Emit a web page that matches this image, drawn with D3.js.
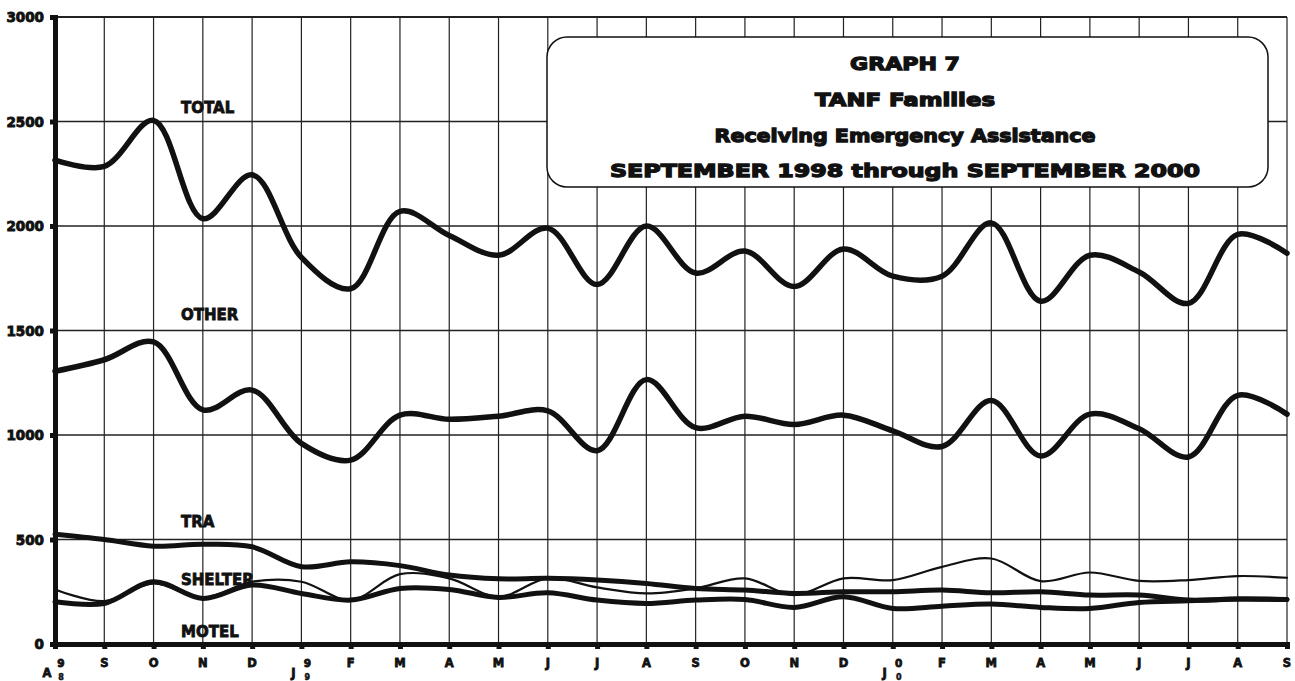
<!DOCTYPE html>
<html>
<head>
<meta charset="utf-8">
<script src="https://cdn.jsdelivr.net/npm/d3@7"></script>
<style>
  html, body { margin: 0; padding: 0; background: #fff; }
  svg { display: block; }
  text { font-family: "DejaVu Sans", "Liberation Sans", sans-serif; font-weight: bold; fill: #111; }
</style>
</head>
<body>
<svg id="chart" width="1295" height="681"></svg>
<script>
// ---- data ----
const months = ["A98","S","O","N","D","J99","F","M","A","M","J","J","A","S","O","N","D","J00","F","M","A","M","J","J","A","S"];
const totalValues   = [2315,2285,2505,2035,2245,1850,1700,2070,1955,1860,1990,1720,2000,1775,1880,1710,1890,1760,1760,2015,1640,1860,1780,1630,1960,1870];
const otherValues   = [1305,1360,1445,1120,1215,960,880,1095,1075,1090,1115,925,1265,1035,1090,1050,1095,1020,945,1165,900,1100,1030,895,1190,1100];
const traValues     = [525,500,468,477,465,370,393,375,330,312,314,306,290,266,258,242,250,250,258,245,250,234,234,210,215,213];
const shelterValues = [202,194,298,218,282,242,210,266,261,223,245,210,194,210,213,175,226,170,181,191,175,170,199,207,215,213];
const motelValues   = [261,205,290,222,298,298,210,334,314,226,314,271,242,266,314,234,314,306,369,409,301,342,302,306,325,317];
const yTicks = [0,500,1000,1500,2000,2500,3000];
const titleLines = ["GRAPH 7","TANF Families","Receiving Emergency Assistance","SEPTEMBER 1998 through SEPTEMBER 2000"];
const seriesLabels = [
  {name:"TOTAL", v:2540}, {name:"OTHER", v:1550}, {name:"TRA", v:560}, {name:"SHELTER", v:282}, {name:"MOTEL", v:33}
];

// ---- layout ----
const svg = d3.select("#chart");
const x = d3.scaleLinear().domain([0, months.length - 1]).range([55, 1287]);
const y = d3.scaleLinear().domain([0, 3000]).range([644, 17]);

// grid
const grid = svg.append("g");
grid.selectAll("line.v").data(d3.range(months.length)).join("line")
  .attr("x1", d => x(d)).attr("x2", d => x(d))
  .attr("y1", y(3000)).attr("y2", y(0))
  .attr("stroke", "#222").attr("stroke-width", 1.2);
grid.selectAll("line.h").data(yTicks).join("line")
  .attr("x1", x(0)).attr("x2", x(months.length - 1))
  .attr("y1", d => y(d)).attr("y2", d => y(d))
  .attr("stroke", "#222").attr("stroke-width", d => d === 3000 ? 2 : 1.3);

// axes
const yAxis = d3.axisLeft(y).tickValues(yTicks).tickSize(5).tickPadding(6).tickFormat(d3.format("d"));
const gy = svg.append("g").attr("transform", `translate(${x(0)},0)`).call(yAxis);
gy.select(".domain").attr("stroke", "#111").attr("stroke-width", 5);
gy.selectAll(".tick line").attr("stroke", "#111").attr("stroke-width", 5);
gy.selectAll(".tick text").attr("font-size", 13.5).attr("font-weight", 900).attr("dy", "0.35em")
  .attr("stroke", "#111").attr("stroke-width", 0.9).attr("fill", "#111");

const xAxis = d3.axisBottom(x).tickValues(d3.range(months.length)).tickSize(5).tickFormat("");
const gx = svg.append("g").attr("transform", `translate(0,${y(0)})`).call(xAxis);
gx.select(".domain").attr("stroke", "#111").attr("stroke-width", 5);
gx.selectAll(".tick line").attr("stroke", "#111").attr("stroke-width", 5);

// x labels
const xl = svg.append("g").attr("font-size", 11.5).attr("fill", "#111");
months.forEach((m, i) => {
  if (m.length === 3) {
    xl.append("text").attr("x", x(i) - 8).attr("y", 677).attr("text-anchor", "middle")
      .attr("stroke", "#111").attr("stroke-width", 0.8).text(m[0]);
    xl.append("text").attr("x", x(i) + 6).attr("y", 667).attr("text-anchor", "middle").attr("font-size", 10.5)
      .attr("stroke", "#111").attr("stroke-width", 0.8).text(m[1]);
    xl.append("text").attr("x", x(i) + 6).attr("y", 680).attr("text-anchor", "middle").attr("font-size", 8)
      .attr("stroke", "#111").attr("stroke-width", 0.5).text(m[2]);
  } else {
    xl.append("text").attr("x", x(i)).attr("y", 667).attr("text-anchor", "middle")
      .attr("stroke", "#111").attr("stroke-width", 0.8).text(m);
  }
});

// series
const line = d3.line().x((d, i) => x(i)).y(d => y(d)).curve(d3.curveCatmullRom.alpha(0.5));
const series = [
  {vals: motelValues, w: 2.2},
  {vals: shelterValues, w: 5},
  {vals: traValues, w: 5},
  {vals: otherValues, w: 5.5},
  {vals: totalValues, w: 5.5}
];
svg.append("g").selectAll("path").data(series).join("path")
  .attr("d", d => line(d.vals)).attr("fill", "none")
  .attr("stroke", "#111").attr("stroke-width", d => d.w)
  .attr("stroke-linejoin", "round").attr("stroke-linecap", "round");

// series labels
svg.append("g").selectAll("text").data(seriesLabels).join("text")
  .attr("x", 181).attr("y", d => y(d.v)).attr("font-size", 15).attr("font-weight", 900)
  .attr("stroke", "#111").attr("stroke-width", 0.8)
  .text(d => d.name);

// title box
const tb = svg.append("g");
tb.append("rect").attr("x", 547).attr("y", 37).attr("width", 721).attr("height", 150)
  .attr("rx", 20).attr("ry", 20).attr("fill", "#fff").attr("stroke", "#111").attr("stroke-width", 1.5);
const tWidths = [110, 180, 381, 590];
const tBase = [70, 106, 142, 177];
tb.selectAll("text").data(titleLines).join("text")
  .attr("x", 905).attr("y", (d, i) => tBase[i]).attr("text-anchor", "middle")
  .attr("font-size", 18.5).attr("font-weight", 900)
  .attr("stroke", "#111").attr("stroke-width", 1.3)
  .attr("textLength", (d, i) => tWidths[i]).attr("lengthAdjust", "spacingAndGlyphs")
  .text(d => d);
</script>
</body>
</html>
